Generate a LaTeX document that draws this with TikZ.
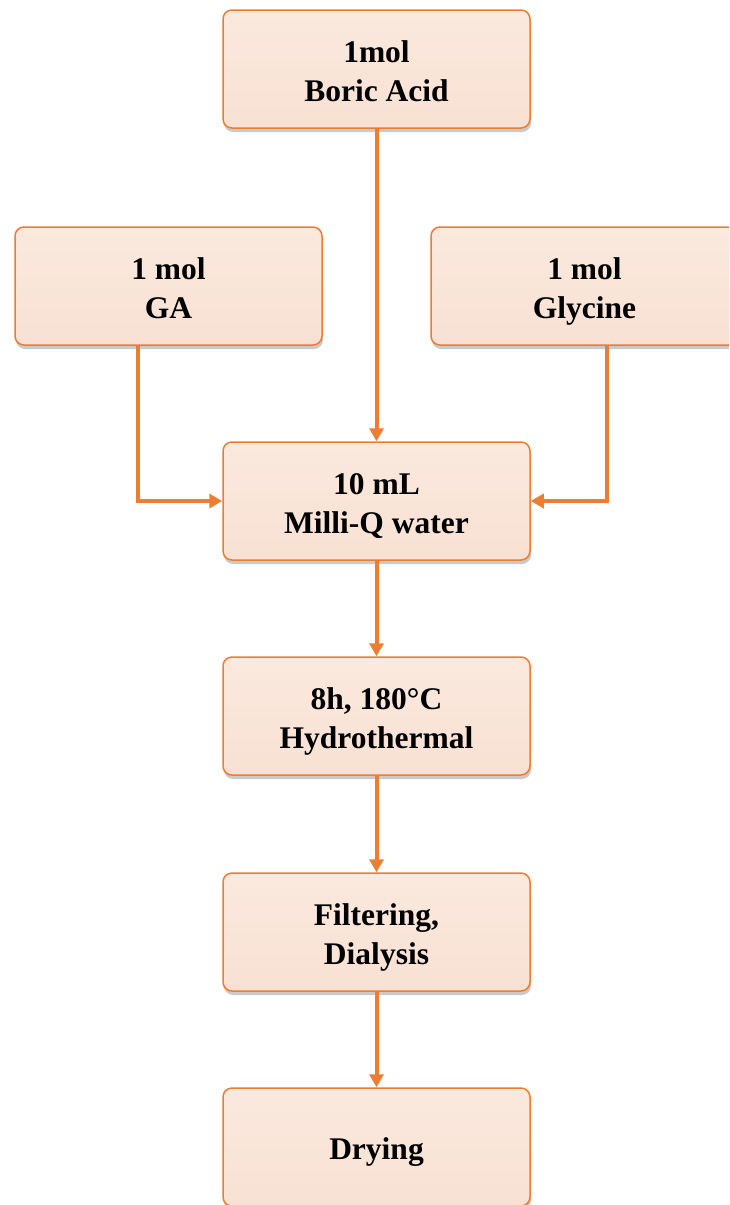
\documentclass[tikz,border=0pt]{standalone}
\usepackage{fontspec}
\setmainfont{Liberation Serif}
\usetikzlibrary{shadows,arrows.meta}
\definecolor{acc}{RGB}{237,125,49}
\definecolor{boxfill}{RGB}{248,225,211}
\definecolor{boxlight}{RGB}{251,233,222}
\newcommand{\lbl}[1]{\raisebox{-5pt}[\height][\depth]{\begin{tabular}{@{}c@{}}#1\end{tabular}}}
\tikzset{
  stepbox/.style={draw=acc, line width=1.5pt, rounded corners=9pt,
    minimum width=307pt, minimum height=118pt, inner sep=0pt,
    align=center, font=\fontsize{31.5}{39}\selectfont\bfseries,
    top color=boxlight, bottom color=boxfill,
    drop shadow={shadow xshift=1pt, shadow yshift=-4pt, opacity=0.35, fill=black!60}},
  flow/.style={draw=acc, line width=4pt, -{Triangle[width=14pt,length=13pt]}}
}
\begin{document}
\begin{tikzpicture}[x=1pt,y=-1pt]
\useasboundingbox (0,0) rectangle (729,1205);
\clip (0,0) rectangle (729,1205);
\node[stepbox] (boric) at (376.5,69) {\lbl{1mol\\Boric Acid}};
\node[stepbox] (ga) at (168.5,286) {\lbl{1 mol\\GA}};
\node[stepbox] (gly) at (584.5,286) {\lbl{1 mol\\Glycine}};
\node[stepbox] (water) at (376.5,501) {\lbl{10 mL\\Milli-Q water}};
\node[stepbox] (hydro) at (376.5,716) {\lbl{8h, 180°C\\Hydrothermal}};
\node[stepbox] (filter) at (376.5,932) {\lbl{Filtering,\\Dialysis}};
\node[stepbox] (dry) at (376.5,1147) {\lbl{Drying}};
\draw[flow] (boric.south) -- (water.north);
\draw[flow] (ga.south -| 138,0) |- (water.west);
\draw[flow] (gly.south -| 607,0) |- (water.east);
\draw[flow] (water.south) -- (hydro.north);
\draw[flow] (hydro.south) -- (filter.north);
\draw[flow] (filter.south) -- (dry.north);
\end{tikzpicture}
\end{document}
